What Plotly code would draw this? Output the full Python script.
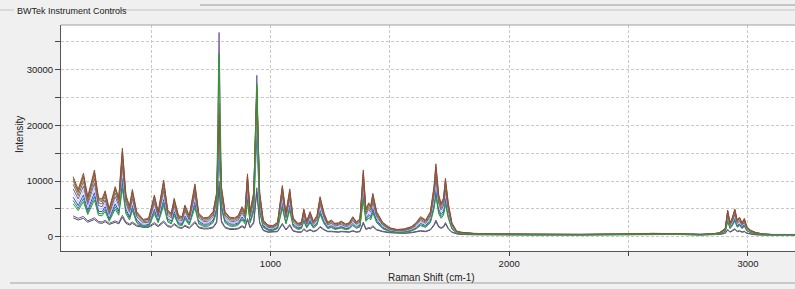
import plotly.graph_objects as go

# Raman shift grid (cm-1)
raman_shift = [174, 195, 217, 235, 263, 280, 295, 308, 325, 350, 365, 380, 395, 410, 422, 440, 467, 490, 514, 530,
               553, 570, 585, 597, 615, 630, 642, 660, 684, 700, 720, 740, 760, 775, 785, 795, 810, 830, 850, 865,
               881, 893, 904, 915, 930, 943, 955, 970, 990, 1010, 1030, 1050, 1065, 1081, 1095, 1115, 1130, 1140, 1152, 1166,
               1180, 1195, 1208, 1225, 1240, 1255, 1270, 1285, 1297, 1315, 1330, 1345, 1360, 1375, 1389, 1400, 1412, 1420, 1429, 1445,
               1470, 1500, 1530, 1560, 1590, 1610, 1629, 1650, 1670, 1685, 1693, 1705, 1715, 1725, 1733, 1745, 1760, 1780, 1800, 1850,
               1950, 2100, 2300, 2500, 2600, 2700, 2800, 2850, 2880, 2905, 2915, 2925, 2935, 2945, 2955, 2965, 2975, 2985, 2995, 3010,
               3030, 3060, 3100, 3200]

spec_brown = [10800, 8500, 11400, 7200, 12000, 7000, 6800, 8250, 5000, 9000, 7000, 15900, 7500, 5500, 8500, 4500, 3100, 3300, 7500, 4500,
              10200, 4800, 4200, 6900, 3800, 3600, 5700, 3800, 9500, 4200, 3400, 3500, 4500, 8000, 22000, 9000, 4500, 3500, 3400, 3800,
              5400, 4300, 11300, 4500, 8000, 26500, 8000, 3000, 2100, 2000, 2600, 9200, 4200, 8600, 3400, 2400, 2600, 5000, 2800, 4500,
              2800, 3800, 7200, 4200, 2600, 3000, 2400, 2500, 2800, 2300, 2500, 3600, 2700, 3200, 12000, 5000, 6100, 5500, 7800, 4500,
              2600, 1600, 1300, 1400, 1800, 2500, 3600, 3000, 4500, 9000, 13100, 7500, 6000, 7000, 10500, 6000, 2500, 1000, 800, 600,
              500, 450, 400, 500, 600, 550, 400, 500, 700, 1500, 4800, 2500, 3500, 5000, 3000, 3500, 2500, 3300, 1800, 1200,
              800, 500, 400, 400]

spec_red = [10400, 8150, 10950, 6900, 11500, 6700, 6550, 7900, 4800, 8650, 6700, 15300, 7200, 5300, 8150, 4300, 3000, 3150, 7200, 4300,
            9800, 4600, 4050, 6600, 3650, 3450, 5450, 3650, 9100, 4050, 3250, 3350, 4300, 7700, 24000, 8650, 4300, 3350, 3250, 3650,
            5200, 4150, 10850, 4300, 7700, 27000, 7700, 2900, 2000, 1900, 2500, 8850, 4050, 8250, 3250, 2300, 2500, 4800, 2700, 4300,
            2700, 3650, 6900, 4050, 2500, 2900, 2300, 2400, 2700, 2200, 2400, 3450, 2600, 3050, 11500, 4800, 5850, 5300, 7500, 4300,
            2500, 1550, 1250, 1350, 1750, 2400, 3450, 2900, 4300, 8650, 12600, 7200, 5750, 6700, 10100, 5750, 2400, 980, 780, 590,
            490, 440, 400, 490, 590, 540, 400, 490, 680, 1450, 4600, 2400, 3350, 4800, 2900, 3350, 2400, 3150, 1750, 1150,
            780, 490, 400, 400]

spec_olive = [10000, 7900, 10600, 6700, 11200, 6500, 6300, 7700, 4650, 8400, 6500, 14800, 7000, 5100, 7900, 4200, 2900, 3100, 7000, 4200,
              9500, 4500, 3900, 6400, 3500, 3350, 5300, 3500, 8800, 3900, 3150, 3250, 4200, 7400, 21000, 8400, 4200, 3250, 3150, 3500,
              5000, 4000, 10500, 4200, 7400, 26000, 7400, 2800, 1950, 1850, 2400, 8600, 3900, 8000, 3150, 2250, 2400, 4650, 2600, 4200,
              2600, 3500, 6700, 3900, 2400, 2800, 2250, 2300, 2600, 2150, 2300, 3350, 2500, 3000, 11200, 4650, 5700, 5100, 7300, 4200,
              2400, 1500, 1200, 1300, 1700, 2300, 3350, 2800, 4200, 8400, 12200, 7000, 5600, 6500, 9800, 5600, 2300, 950, 750, 580,
              480, 440, 400, 490, 580, 530, 390, 480, 650, 1400, 4500, 2300, 3300, 4700, 2800, 3300, 2300, 3100, 1700, 1100,
              750, 480, 390, 390]

spec_khaki = [9400, 7400, 9900, 6250, 10450, 6100, 5900, 7200, 4350, 7850, 6100, 13850, 6500, 4800, 7400, 3900, 2700, 2850, 6500, 3900,
              8850, 4200, 3650, 6000, 3300, 3150, 4950, 3300, 8250, 3650, 2950, 3050, 3900, 6950, 20000, 7850, 3900, 3050, 2950, 3300,
              4700, 3750, 9850, 3900, 6950, 25000, 6950, 2600, 1850, 1750, 2250, 8000, 3650, 7500, 2950, 2100, 2250, 4350, 2450, 3900,
              2450, 3300, 6250, 3650, 2250, 2600, 2100, 2200, 2450, 2000, 2200, 3150, 2350, 2800, 10450, 4350, 5300, 4800, 6800, 3900,
              2250, 1400, 1150, 1200, 1550, 2200, 3150, 2600, 3900, 7850, 11400, 6500, 5200, 6100, 9150, 5200, 2200, 900, 720, 560,
              470, 430, 390, 480, 560, 510, 380, 470, 640, 1300, 4200, 2200, 3050, 4350, 2600, 3050, 2200, 2850, 1550, 1050,
              720, 470, 390, 390]

spec_purple = [8600, 6800, 9100, 5800, 9600, 5600, 5400, 6600, 4000, 7200, 5600, 12700, 6000, 4400, 6800, 3600, 2500, 2600, 6000, 3600,
               8200, 3800, 3400, 5500, 3000, 2900, 4600, 3000, 7600, 3400, 2700, 2800, 3600, 6400, 36700, 7200, 3600, 2800, 2700, 3000,
               4300, 3400, 9000, 3600, 6400, 29000, 6400, 2400, 1700, 1600, 2100, 7400, 3400, 6900, 2700, 1900, 2100, 4000, 2200, 3600,
               2200, 3000, 5800, 3400, 2100, 2400, 1900, 2000, 2200, 1800, 2000, 2900, 2200, 2600, 9600, 4000, 4900, 4400, 6200, 3600,
               2100, 1300, 1050, 1100, 1450, 2000, 2900, 2400, 3600, 7200, 10500, 6000, 4800, 5600, 8400, 4800, 2000, 850, 700, 550,
               460, 420, 380, 470, 560, 500, 380, 460, 620, 1250, 3900, 2000, 2800, 4000, 2400, 2800, 2000, 2600, 1450, 1000,
               700, 460, 380, 380]

spec_lavender = [7900, 6200, 8300, 5250, 8750, 5100, 4950, 6000, 3650, 6550, 5100, 11600, 5450, 4000, 6200, 3300, 2250, 2400, 5450, 3300,
                 7450, 3500, 3050, 5050, 2750, 2650, 4150, 2750, 6950, 3050, 2500, 2550, 3300, 5850, 19000, 6550, 3300, 2550, 2500, 2750,
                 3950, 3150, 8250, 3300, 5850, 22500, 5850, 2200, 1550, 1450, 1900, 6700, 3050, 6300, 2500, 1750, 1900, 3650, 2050, 3300,
                 2050, 2750, 5250, 3050, 1900, 2200, 1750, 1800, 2050, 1700, 1800, 2650, 1950, 2350, 8750, 3650, 4450, 4000, 5700, 3300,
                 1900, 1200, 950, 1000, 1300, 1800, 2650, 2200, 3300, 6550, 9550, 5450, 4400, 5100, 7650, 4400, 1800, 750, 620, 520,
                 440, 410, 370, 460, 540, 490, 370, 440, 580, 1150, 3500, 1850, 2550, 3650, 2200, 2550, 1850, 2400, 1300, 900,
                 620, 440, 370, 370]

spec_blue = [7100, 5600, 7500, 4750, 7900, 4600, 4500, 5400, 3300, 5900, 4600, 10500, 4950, 3600, 5600, 3000, 2050, 2200, 4950, 3000,
             6700, 3200, 2800, 4550, 2500, 2400, 3750, 2500, 6300, 2800, 2250, 2300, 3000, 5300, 17000, 5900, 3000, 2300, 2250, 2500,
             3550, 2850, 7500, 3000, 5300, 21000, 5300, 2000, 1400, 1350, 1700, 6100, 2800, 5700, 2250, 1600, 1700, 3300, 1850, 3000,
             1850, 2500, 4750, 2800, 1700, 2000, 1600, 1650, 1850, 1500, 1650, 2400, 1800, 2100, 7900, 3300, 4000, 3600, 5150, 3000,
             1700, 1100, 900, 950, 1200, 1650, 2400, 2000, 3000, 5900, 8600, 4950, 4000, 4600, 6900, 4000, 1650, 700, 600, 500,
             430, 400, 360, 450, 530, 480, 360, 430, 560, 1050, 3200, 1700, 2300, 3300, 2000, 2300, 1700, 2200, 1200, 850,
             600, 430, 360, 360]

spec_teal = [6500, 5100, 6850, 4300, 7200, 4200, 4100, 4950, 3000, 5400, 4200, 9550, 4500, 3300, 5100, 2700, 1850, 2000, 4500, 2700,
             6100, 2900, 2500, 4150, 2300, 2150, 3400, 2300, 5700, 2500, 2050, 2100, 2700, 4800, 15000, 5400, 2700, 2100, 2050, 2300,
             3250, 2600, 6800, 2700, 4800, 18000, 4800, 1800, 1250, 1200, 1550, 5500, 2500, 5150, 2050, 1450, 1550, 3000, 1700, 2700,
             1700, 2300, 4300, 2500, 1550, 1800, 1450, 1500, 1700, 1400, 1500, 2150, 1600, 1900, 7200, 3000, 3650, 3300, 4700, 2700,
             1550, 1000, 800, 850, 1100, 1500, 2150, 1800, 2700, 5400, 7850, 4500, 3600, 4200, 6300, 3600, 1500, 650, 560, 470,
             410, 390, 350, 440, 510, 460, 350, 410, 540, 1000, 2950, 1550, 2150, 3050, 1850, 2150, 1550, 2000, 1150, 800,
             560, 410, 350, 350]

spec_green = [5900, 4700, 6300, 4000, 6600, 3850, 3750, 4550, 2750, 4950, 3850, 8700, 4100, 3000, 4700, 2500, 1700, 1800, 4100, 2500,
              5600, 2650, 2300, 3800, 2100, 2000, 3150, 2100, 5200, 2300, 1850, 1900, 2500, 4400, 33000, 4950, 2500, 1900, 1850, 2100,
              3000, 2350, 6200, 2500, 4400, 27500, 4400, 1650, 1150, 1100, 1450, 5100, 2300, 4700, 1850, 1300, 1450, 2750, 1550, 2500,
              1550, 2100, 4000, 2300, 1450, 1650, 1300, 1400, 1550, 1250, 1400, 2000, 1500, 1750, 6600, 2750, 3350, 3000, 4300, 2500,
              1450, 900, 750, 800, 1000, 1400, 2000, 1650, 2500, 4950, 7200, 4100, 3300, 3850, 5800, 3300, 1400, 620, 520, 450,
              400, 380, 340, 420, 500, 450, 340, 400, 520, 900, 2700, 1450, 2000, 2800, 1700, 2000, 1450, 1850, 1050, 750,
              550, 400, 340, 340]

spec_violet = [3750, 3300, 3650, 2850, 3400, 2750, 2650, 2950, 2400, 2850, 2550, 3850, 2650, 2300, 2650, 2100, 1850, 1850, 2550, 2000,
               2850, 2000, 1850, 2400, 1750, 1650, 2100, 1650, 2750, 1750, 1550, 1550, 1750, 2750, 10000, 2850, 1750, 1450, 1450, 1550,
               2000, 1650, 3300, 1750, 2650, 8800, 2650, 1200, 880, 880, 990, 2400, 1300, 2200, 1100, 880, 880, 1450, 990, 1300,
               990, 1200, 1850, 1300, 990, 990, 880, 880, 990, 880, 880, 1100, 880, 990, 2650, 1450, 1650, 1550, 2000, 1300,
               990, 770, 660, 660, 770, 880, 1100, 990, 1300, 2200, 3000, 1850, 1650, 1850, 2550, 1550, 880, 550, 440, 390,
               330, 330, 330, 440, 500, 440, 330, 390, 440, 660, 1300, 880, 1100, 1450, 990, 1100, 880, 990, 660, 500,
               390, 330, 330, 330]

spec_gray = [3400, 3000, 3300, 2600, 3100, 2500, 2400, 2700, 2200, 2600, 2300, 3500, 2400, 2100, 2400, 1900, 1700, 1700, 2300, 1800,
             2600, 1800, 1700, 2200, 1600, 1500, 1900, 1500, 2500, 1600, 1400, 1400, 1600, 2500, 9000, 2600, 1600, 1300, 1300, 1400,
             1800, 1500, 3000, 1600, 2400, 8000, 2400, 1100, 800, 800, 900, 2200, 1200, 2000, 1000, 800, 800, 1300, 900, 1200,
             900, 1100, 1700, 1200, 900, 900, 800, 800, 900, 800, 800, 1000, 800, 900, 2400, 1300, 1500, 1400, 1800, 1200,
             900, 700, 600, 600, 700, 800, 1000, 900, 1200, 2000, 2700, 1700, 1500, 1700, 2300, 1400, 800, 500, 400, 350,
             300, 300, 300, 400, 450, 400, 300, 350, 400, 600, 1200, 800, 1000, 1300, 900, 1000, 800, 900, 600, 450,
             350, 300, 300, 300]

series = [("gray", spec_gray, "#4b4b58"), ("violet", spec_violet, "#6a5a8c"), ("teal", spec_teal, "#2a7f8f"),
          ("blue", spec_blue, "#2c4ec4"), ("lavender", spec_lavender, "#c4c4ec"), ("purple", spec_purple, "#7a5c9e"),
          ("khaki", spec_khaki, "#6d6b4c"), ("olive", spec_olive, "#7f7f35"), ("red", spec_red, "#a05848"),
          ("brown", spec_brown, "#8c4f3b"), ("green", spec_green, "#2e9a2e")]

x_ticks = [500, 1000, 1500, 2000, 2500, 3000]
x_labels = ["", "1000", "", "2000", "", "3000"]
y_ticks = [0, 5000, 10000, 15000, 20000, 25000, 30000, 35000]
y_labels = ["0", "", "10000", "", "20000", "", "30000", ""]

FONT = "Liberation Sans, Arial, sans-serif"

fig = go.Figure()
for name, vals, col in series:
    fig.add_trace(go.Scatter(x=raman_shift, y=vals, mode="lines", name=name,
                             line=dict(color=col, width=1), showlegend=False, hoverinfo="skip"))

W, H = 795, 289
L, R, T, B = 61, 0, 25, 38
pw, ph = W - L - R, H - T - B


def px(xp):
    return (xp - L) / pw


def py(yp):
    return (H - B - yp) / ph


shapes = [
    dict(type="line", xref="paper", yref="paper", x0=px(200), x1=px(795), y0=py(5), y1=py(5),
         line=dict(color="#9a9a9a", width=1)),
    dict(type="line", xref="paper", yref="paper", x0=px(0), x1=px(14), y0=py(10), y1=py(10),
         line=dict(color="#c4c4c4", width=1)),
    dict(type="line", xref="paper", yref="paper", x0=px(107), x1=px(795), y0=py(10), y1=py(10),
         line=dict(color="#c4c4c4", width=1)),
    dict(type="line", xref="paper", yref="paper", x0=0, x1=1, y0=1, y1=1,
         line=dict(color="#a0a0a0", width=1)),
    dict(type="line", xref="paper", yref="paper", x0=px(10), x1=px(795), y0=py(283), y1=py(283),
         line=dict(color="#a0a0a0", width=1)),
]

annotations = [
    dict(text="BWTek Instrument Controls", xref="paper", yref="paper", x=px(15), y=py(11),
         xanchor="left", yanchor="middle", showarrow=False, font=dict(family=FONT, size=9, color="#222")),
    dict(text="Raman Shift (cm-1)", xref="paper", yref="paper", x=px(431), y=py(277),
         xanchor="center", yanchor="middle", showarrow=False, font=dict(family=FONT, size=10, color="#222")),
    dict(text="Intensity", xref="paper", yref="paper", x=px(19), y=py(135), textangle=-90,
         xanchor="center", yanchor="middle", showarrow=False, font=dict(family=FONT, size=10, color="#222")),
]

fig.update_layout(
    width=W, height=H,
    margin=dict(l=L, r=R, t=T, b=B, pad=0),
    paper_bgcolor="#f0f0f0", plot_bgcolor="white",
    font=dict(family=FONT, size=10, color="#222"),
    shapes=shapes, annotations=annotations,
    xaxis=dict(range=[123, 3197], tickmode="array", tickvals=x_ticks, ticktext=x_labels,
               showgrid=True, gridcolor="#c8c8c8", griddash="3px,2px", gridwidth=1,
               ticks="outside", ticklen=4, tickcolor="#444", showline=True, linecolor="#555",
               zeroline=False, tickfont=dict(family=FONT, size=9.5, color="#222")),
    yaxis=dict(range=[-2570, 38050], tickmode="array", tickvals=y_ticks, ticktext=y_labels,
               showgrid=True, gridcolor="#c8c8c8", griddash="3px,2px", gridwidth=1,
               ticks="outside", ticklen=5, tickcolor="#444", showline=True, linecolor="#555",
               zeroline=False, tickfont=dict(family=FONT, size=9.5, color="#222")),
)

fig.write_html("out.html", config={"displayModeBar": False},
               post_script="document.body.style.margin='0';")
